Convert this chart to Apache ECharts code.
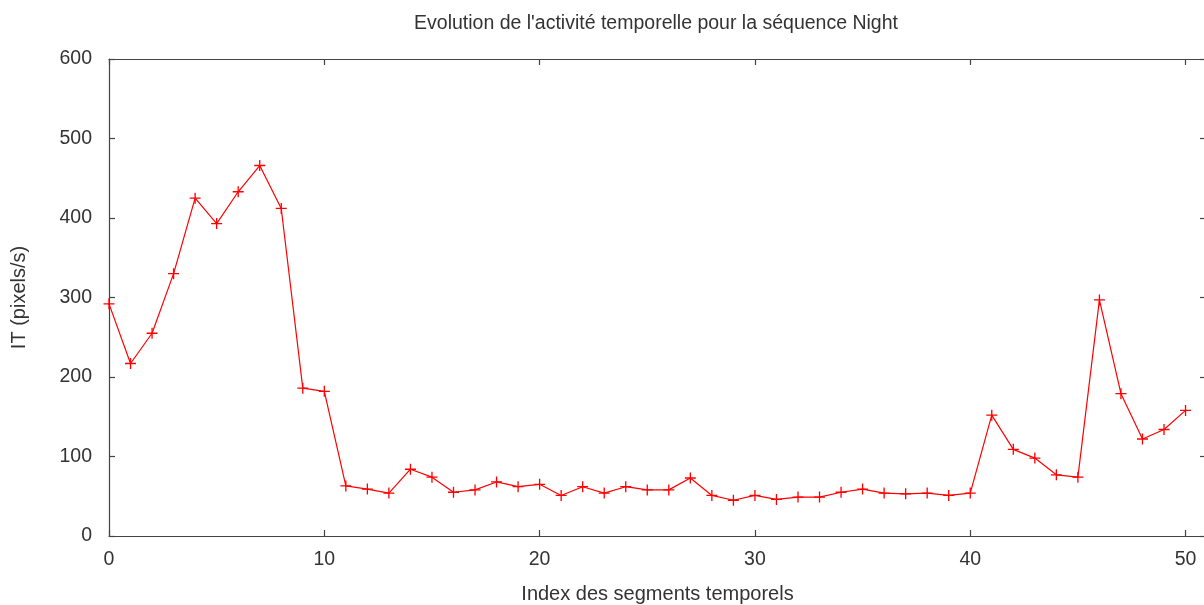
<!DOCTYPE html>
<html>
<head>
<meta charset="utf-8">
<script src="https://cdn.jsdelivr.net/npm/echarts@6/dist/echarts.min.js"></script>
<style>
html,body{margin:0;padding:0;background:#fff;overflow:hidden;}
#chart{width:1204px;height:605px;}
</style>
</head>
<body>
<div id="chart"></div>
<script>
const segmentIndex = [0,1,2,3,4,5,6,7,8,9,10,11,12,13,14,15,16,17,18,19,20,21,22,23,24,25,26,27,28,29,30,31,32,33,34,35,36,37,38,39,40,41,42,43,44,45,46,47,48,49,50];
const itValues = [292,217,255,330,425,393,433,466,412,186,182,63,59,54,84,74,55,58,68,62,65,51,62,54,62,58,58,73,51,45,51,46,49,49,55,59,54,53,54,51,54,152,109,98,77,74,297,179,122,134,158];
const xTicks = [0,10,20,30,40,50];
const yTicks = [0,100,200,300,400,500,600];

const chart = echarts.init(document.getElementById('chart'), null, {renderer:'canvas', width:1204, height:605});
const axisColor = '#444';
const textColor = '#333';
const font = 'Liberation Sans, Arial, sans-serif';
const plus = 'path://M-0.6,-5L0.6,-5L0.6,-0.6L5,-0.6L5,0.6L0.6,0.6L0.6,5L-0.6,5L-0.6,0.6L-5,0.6L-5,-0.6L-0.6,-0.6Z';

const xmin = xTicks[0], xmax = 50.95, ymin = yTicks[0], ymax = yTicks[yTicks.length-1];
const fmtX = v => (xTicks.indexOf(v) >= 0 ? String(v) : '');

chart.setOption({
  animation: false,
  title: {
    text: "Evolution de l'activité temporelle pour la séquence Night",
    left: 651, top: 9, textAlign: 'center',
    textStyle: {fontFamily: font, fontSize: 19.5, fontWeight: 'normal', color: textColor}
  },
  grid: {left: 109, right: -2, top: 59, bottom: 69, containLabel: false, outerBoundsMode: 'none'},
  xAxis: [{
    type: 'value', min: xmin, max: xmax, interval: 10, position: 'bottom',
    name: 'Index des segments temporels', nameLocation: 'middle', nameGap: 48,
    nameTextStyle: {fontFamily: font, fontSize: 20, color: textColor},
    axisLine: {show: true, onZero: false, lineStyle: {color: axisColor, width: 1.2}},
    axisTick: {show: true, inside: true, length: 6, lineStyle: {color: axisColor, width: 1.2}},
    axisLabel: {show: true, margin: 14, formatter: fmtX, fontFamily: font, fontSize: 19.5, color: textColor},
    splitLine: {show: false}
  },{
    type: 'value', min: xmin, max: xmax, interval: 10, position: 'top',
    axisLine: {show: true, onZero: false, lineStyle: {color: axisColor, width: 1.2}},
    axisTick: {show: true, inside: true, length: 6, lineStyle: {color: axisColor, width: 1.2}},
    axisLabel: {show: false}, splitLine: {show: false}
  }],
  yAxis: [{
    type: 'value', min: ymin, max: ymax, interval: 100, position: 'left',
    name: 'IT (pixels/s)', nameLocation: 'middle', nameGap: 80, nameRotate: 90,
    nameTextStyle: {fontFamily: font, fontSize: 20, color: textColor},
    axisLine: {show: true, onZero: false, lineStyle: {color: axisColor, width: 1.2}},
    axisTick: {show: true, inside: true, length: 6, lineStyle: {color: axisColor, width: 1.2}},
    axisLabel: {show: true, margin: 17, fontFamily: font, fontSize: 19.5, color: textColor},
    splitLine: {show: false}
  },{
    type: 'value', min: ymin, max: ymax, interval: 100, position: 'right',
    axisLine: {show: true, onZero: false, lineStyle: {color: axisColor, width: 1.2}},
    axisTick: {show: true, inside: true, length: 6, lineStyle: {color: axisColor, width: 1.2}},
    axisLabel: {show: false}, splitLine: {show: false}
  }],
  series: [{
    type: 'line',
    xAxisIndex: 0, yAxisIndex: 0,
    data: segmentIndex.map((x, i) => [x, itValues[i]]),
    symbol: plus, symbolSize: 11, showAllSymbol: true,
    lineStyle: {color: '#ff0000', width: 1.2},
    itemStyle: {color: '#ff0000'},
    clip: false
  }]
});
</script>
</body>
</html>
